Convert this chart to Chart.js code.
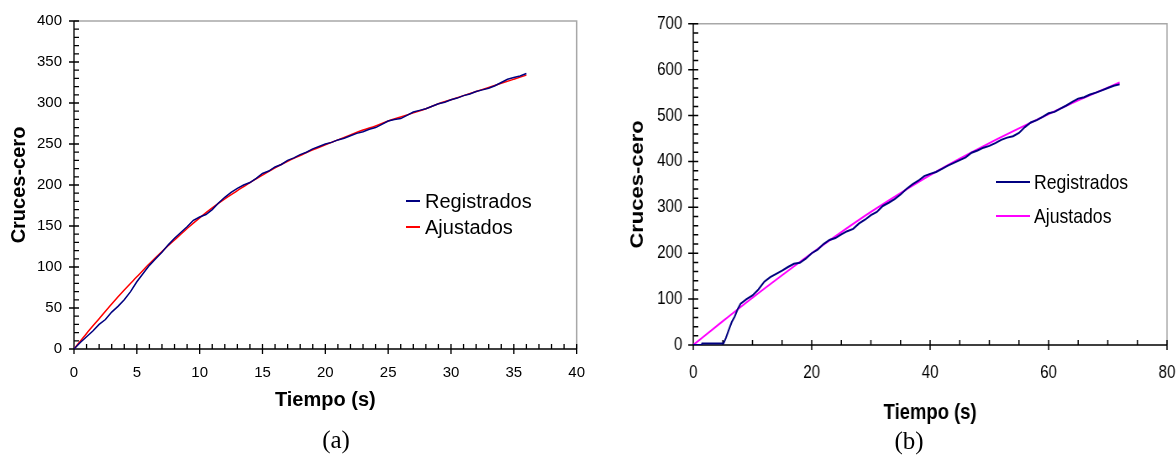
<!DOCTYPE html>
<html>
<head>
<meta charset="utf-8">
<script src="https://cdn.jsdelivr.net/npm/chart.js@4"></script>
<style>
  html, body { margin: 0; padding: 0; background: #fff; width: 1176px; height: 455px; overflow: hidden; position: relative; }
  canvas { position: absolute; top: 0; }
  #ca { left: 0; }
  #cb { left: 600px; transform: scaleX(0.84); transform-origin: 0 0; }
  .lg { position: absolute; white-space: nowrap; color: #000; transform-origin: 0 50%; }
  .cap { position: absolute; font-family: "Liberation Serif", "DejaVu Serif", serif; font-size: 25px; color: #000; transform: translate(-50%, -50%); }
  .ta { font-family: "Liberation Sans", Arial, sans-serif; font-size: 20px; }
  .tb { font-family: "Liberation Sans", Arial, sans-serif; font-size: 21px; transform: scaleX(0.84); }
</style>
</head>
<body>
<canvas id="ca" width="600" height="455"></canvas>
<canvas id="cb" width="720" height="455"></canvas>
<div id="legA"></div>
<div id="legB"></div>
<div class="cap" style="left:336px; top:440px;">(a)</div>
<div class="cap" style="left:909px; top:441px;">(b)</div>
<script>
// ---------- Panel (a) data ----------
const timeA = [0,0.5,1,1.5,2,2.5,3,3.5,4,4.5,5,5.5,6,6.5,7,7.5,8,8.5,9,9.5,10,10.5,11,11.5,12,12.5,13,13.5,14,14.5,15,15.5,16,16.5,17,17.5,18,18.5,19,19.5,20,20.5,21,21.5,22,22.5,23,23.5,24,24.5,25,25.5,26,26.5,27,27.5,28,28.5,29,29.5,30,30.5,31,31.5,32,32.5,33,33.5,34,34.5,35,35.5,36];
const registradosA = [0,8,15,22,30,36,45,52,60,70,82,92,102,110,118,127,135,142,149,157,161,164,170,178,185,191,196,200,203,208,214,217,222,225,230,233,237,240,244,247,250,252,255,257,260,263,265,268,270,274,278,280,281,285,289,291,293,296,299,301,304,306,309,311,314,316,318,321,325,329,331,333,336];
const fitTimeA = [0,1,2,3,4,5,6,7,8,9,10,11,12,13,14,15,16,17,18,19,20,21,22,23,24,25,26,27,28,29,30,31,32,33,34,35,36];
const ajustadosA = [0,19,37,55,72,88,104,119,133,147,160,172,183,193,203,212,221,229,236,243,249,255,261,267,272,278,283,288,293,299,304,309,314,319,324,329,334];
const xTicksA = [0,5,10,15,20,25,30,35,40];
const yTicksA = [0,50,100,150,200,250,300,350,400];

// ---------- Panel (b) data ----------
const timeB = [0,1.4,1.5,5.1,5.5,6,6.5,7,7.5,8,9,10,11,12,13,14,15,16,17,18,19,20,21,22,23,24,25,26,27,28,29,30,31,32,33,34,35,36,37,38,39,40,41,42,43,44,45,46,47,48,49,50,51,52,53,54,55,56,57,58,59,60,61,62,63,64,65,66,67,68,69,70,71,72];
const registradosB = [0,0,3,3,15,33,50,62,78,90,100,108,121,138,148,155,162,170,177,179,188,200,208,220,229,233,241,248,253,265,273,283,290,303,310,318,328,340,350,358,368,373,377,384,391,397,403,409,419,424,430,434,440,447,452,455,462,475,485,490,497,505,508,515,522,530,537,540,546,550,555,560,565,568];
const fitTimeB = [0,5,10,15,20,25,30,35,40,45,50,55,60,65,70,72];
const ajustadosB = [0,52,103,152,200,246,290,331,370,406,440,472,503,533,561,572];
const xTicksB = [0,20,40,60,80];
const yTicksB = [0,100,200,300,400,500,600,700];

const seriesNames = ['Registrados', 'Ajustados'];

function pts(xs, ys) { return xs.map((x, i) => ({ x: x, y: ys[i] })); }

// Frame plugin: black axes with crossing major ticks / inner minor ticks, grey top/right border
const framePlugin = {
  id: 'frame',
  beforeDatasetsDraw(chart, args, o) {
    const { ctx, chartArea: { left, right, top, bottom }, scales: { x, y } } = chart;
    ctx.save();
    ctx.lineWidth = 1.5;
    ctx.strokeStyle = '#a8a8a8';
    ctx.beginPath();
    ctx.moveTo(left, top); ctx.lineTo(right, top); ctx.lineTo(right, bottom);
    ctx.stroke();
    ctx.strokeStyle = '#000';
    ctx.lineWidth = o.axisW;
    ctx.beginPath();
    ctx.moveTo(left, top); ctx.lineTo(left, bottom); ctx.lineTo(right, bottom);
    const isMajor = (v, m) => Math.abs(v / m - Math.round(v / m)) < 1e-6;
    const ny = Math.round((y.max - y.min) / o.yMinor);
    for (let i = 0; i <= ny; i++) {
      const v = y.min + i * o.yMinor;
      const p = y.getPixelForValue(v);
      const maj = isMajor(v, o.yMajor);
      ctx.moveTo(left - (maj ? o.tickX : 0), p); ctx.lineTo(left + o.tickX, p);
    }
    const nx = Math.round((x.max - x.min) / o.xMinor);
    for (let i = 0; i <= nx; i++) {
      const v = x.min + i * o.xMinor;
      const p = x.getPixelForValue(v);
      const maj = isMajor(v, o.xMajor);
      ctx.moveTo(p, bottom + (maj ? 5 : 0)); ctx.lineTo(p, bottom - 5);
    }
    ctx.stroke();
    ctx.restore();
  }
};

function makeChart(id, cfg) {
  return new Chart(document.getElementById(id), {
    type: 'line',
    data: {
      datasets: [
        { label: seriesNames[0], data: pts(cfg.t1, cfg.y1), borderColor: cfg.c1, borderWidth: cfg.w1, pointRadius: 0, tension: 0, fill: false },
        { label: seriesNames[1], data: pts(cfg.t2, cfg.y2), borderColor: cfg.c2, borderWidth: cfg.w2, pointRadius: 0, cubicInterpolationMode: 'monotone', fill: false }
      ]
    },
    plugins: [framePlugin],
    options: {
      responsive: false,
      animation: false,
      devicePixelRatio: 1,
      layout: { padding: cfg.pad },
      plugins: {
        legend: { display: false },
        tooltip: { enabled: false },
        frame: { xMinor: cfg.xMinor, xMajor: cfg.xMajor, yMinor: cfg.yMinor, yMajor: cfg.yMajor, tickX: cfg.tickX, axisW: cfg.axisW }
      },
      scales: {
        x: {
          type: 'linear', min: cfg.xTicks[0], max: cfg.xTicks[cfg.xTicks.length - 1],
          afterBuildTicks: s => { s.ticks = cfg.xTicks.map(v => ({ value: v })); },
          afterFit: s => { s.height = cfg.xH; },
          grid: { display: false, drawTicks: false },
          border: { display: false },
          ticks: { color: '#000', font: cfg.tickFont, padding: cfg.xPad, maxRotation: 0, autoSkip: false },
          title: { display: true, text: 'Tiempo (s)', color: '#000', font: cfg.xTitleFont, padding: { top: 0, bottom: 0 } }
        },
        y: {
          type: 'linear', min: cfg.yTicks[0], max: cfg.yTicks[cfg.yTicks.length - 1],
          afterBuildTicks: s => { s.ticks = cfg.yTicks.map(v => ({ value: v })); },
          afterFit: s => { s.width = cfg.yW; },
          grid: { display: false, drawTicks: false },
          border: { display: false },
          ticks: { color: '#000', font: cfg.tickFont, padding: cfg.yPad, autoSkip: false },
          title: { display: true, text: 'Cruces-cero', color: '#000', font: cfg.yTitleFont, padding: { top: cfg.yTitlePad, bottom: 0 } }
        }
      }
    }
  });
}

const SANS = '"Liberation Sans", Arial, sans-serif';

const chartA = makeChart('ca', {
  t1: timeA, y1: registradosA, c1: '#000080', w1: 1.5,
  t2: fitTimeA, y2: ajustadosA, c2: '#ff0000', w2: 1.5,
  xTicks: xTicksA, yTicks: yTicksA,
  xMinor: 1, xMajor: 5, yMinor: 10, yMajor: 50, tickX: 5, axisW: 1.3,
  pad: { left: 0, top: 20, right: 16, bottom: 43 },
  xH: 63, yW: 74, xPad: 15, yPad: 12, yTitlePad: 7,
  tickFont: { family: SANS, size: 15 },
  xTitleFont: { family: SANS, size: 20, weight: 'bold' },
  yTitleFont: { family: SANS, size: 20, weight: 'bold' }
});

// panel (b) canvas is drawn in internal units and squeezed horizontally by 0.84 on screen
const chartB = makeChart('cb', {
  t1: timeB, y1: registradosB, c1: '#000080', w1: 2,
  t2: fitTimeB, y2: ajustadosB, c2: '#ff00ff', w2: 2,
  xTicks: xTicksB, yTicks: yTicksB,
  xMinor: 5, xMajor: 20, yMinor: 20, yMajor: 100, tickX: 6, axisW: 1.5,
  pad: { left: 0, top: 15, right: 45, bottom: 29 },
  xH: 81, yW: 111, xPad: 17, yPad: 13, yTitlePad: 32,
  tickFont: { family: SANS, size: 18 },
  xTitleFont: { family: SANS, size: 22, weight: 'bold' },
  yTitleFont: { family: SANS, size: 22, weight: 'bold' }
});

// HTML legends built from dataset labels / colours
function buildLegend(elId, chart, cls, lineX0, lineX1, textX, rowsY, lineW) {
  const el = document.getElementById(elId);
  chart.data.datasets.forEach((ds, i) => {
    const ln = document.createElement('div');
    ln.style.cssText = `position:absolute;left:${lineX0}px;top:${rowsY[i] - lineW / 2}px;width:${lineX1 - lineX0}px;height:${lineW}px;background:${ds.borderColor};`;
    el.appendChild(ln);
    const tx = document.createElement('div');
    tx.className = 'lg ' + cls;
    tx.textContent = ds.label;
    tx.style.left = textX + 'px';
    tx.style.top = (rowsY[i] - 12) + 'px';
    tx.style.lineHeight = '24px';
    el.appendChild(tx);
  });
}
buildLegend('legA', chartA, 'ta', 406, 420, 425, [201, 227], 1.5);
buildLegend('legB', chartB, 'tb', 996, 1030, 1034, [182, 216], 2);
</script>
</body>
</html>
